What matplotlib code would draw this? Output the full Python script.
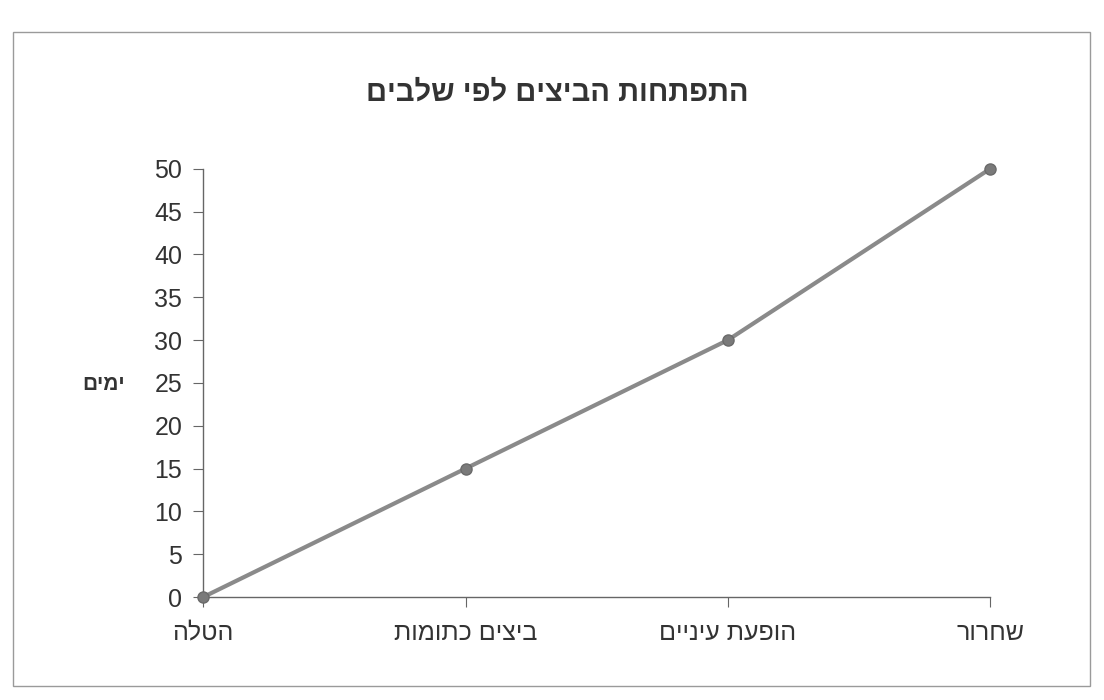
import matplotlib
matplotlib.use('Agg')
import matplotlib.pyplot as plt
from matplotlib.patches import Rectangle

# נתונים
stages = ['הטלה', 'ביצים כתומות', 'הופעת עיניים', 'שחרור']
days = [0, 15, 30, 50]
yticks = list(range(0, 51, 5))
title = 'התפתחות הביצים לפי שלבים'
ylabel = 'ימים'


def rtl(s):
    # matplotlib draws left to right, so flip hebrew for display
    return s[::-1]


plt.rcParams['font.family'] = ['Liberation Sans', 'DejaVu Sans']

fig = plt.figure(figsize=(11.04, 7.0), dpi=100)
ax = fig.add_axes([0.184, 0.147, 0.713, 0.612])

# outer chart frame
fig.patches.append(Rectangle((0.012, 0.02), 0.975, 0.935, transform=fig.transFigure,
                             fill=False, edgecolor='#9a9a9a', lw=1.0))

x = list(range(len(stages)))
ax.plot(x, days, color='#8a8a8a', lw=3, marker='o', ms=8,
        markerfacecolor='#7a7a7a', markeredgecolor='#6a6a6a', clip_on=False, zorder=3)

ax.set_xlim(0, len(stages) - 1)
ax.set_ylim(0, 50)
ax.set_yticks(yticks)
ax.set_xticks(x)
ax.set_xticklabels([rtl(s) for s in stages], fontsize=18, color='#333333')
ax.tick_params(axis='y', labelsize=18, labelcolor='#333333', length=7, color='#666666', pad=8)
ax.tick_params(axis='x', length=7, color='#666666', pad=10)

for side in ['top', 'right']:
    ax.spines[side].set_visible(False)
for side in ['left', 'bottom']:
    ax.spines[side].set_color('#666666')
    ax.spines[side].set_linewidth(1.0)

fig.text(0.505, 0.868, rtl(title), ha='center', va='center', fontsize=21,
         fontweight='bold', color='#333333')
fig.text(0.094, 0.45, rtl(ylabel), ha='center', va='center', fontsize=15,
         fontweight='bold', color='#333333')

fig.savefig('out.png', dpi=100)
